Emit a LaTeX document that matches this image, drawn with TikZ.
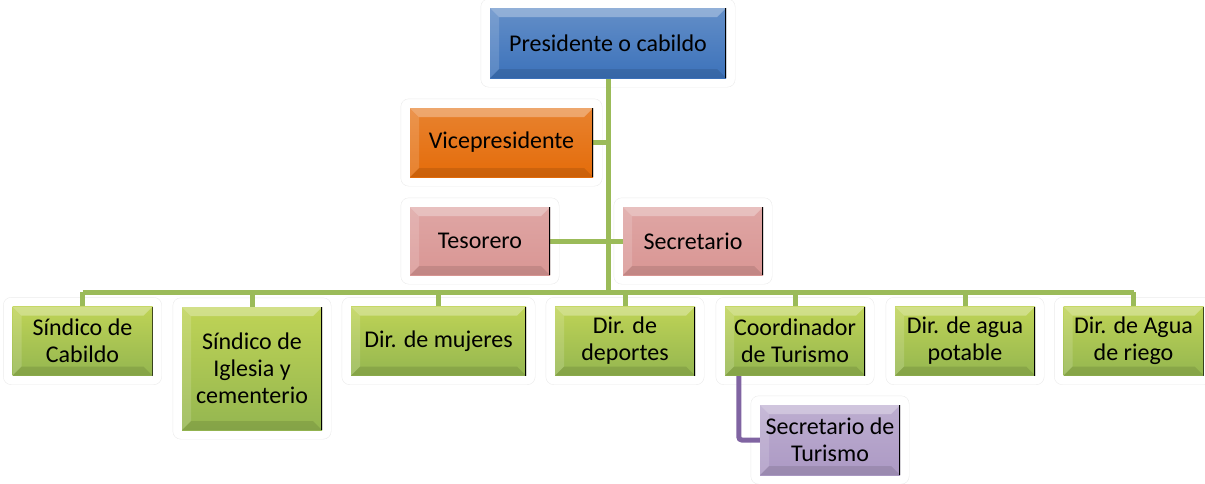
\documentclass[tikz,border=0pt]{standalone}
\usepackage{fontspec}
\setmainfont{Carlito}
\usetikzlibrary{positioning, backgrounds}
\definecolor{presBlue}{RGB}{60,114,186}
\definecolor{viceOrange}{RGB}{228,108,10}
\definecolor{tesPink}{RGB}{217,150,148}
\definecolor{dirGreen}{RGB}{148,182,80}
\definecolor{turPurple}{RGB}{172,153,196}
\definecolor{lineGreen}{RGB}{155,187,89}
\definecolor{linePurple}{RGB}{128,100,162}
\tikzstyle{bevel} = [rectangle, inner sep=2pt, align=center, font=\fontsize{24}{27}\selectfont,
  path picture={
    \fill[white, opacity=0.3] (path picture bounding box.north west) -- (path picture bounding box.north east)
      -- ([shift={(-9pt,-9pt)}]path picture bounding box.north east) -- ([shift={(9pt,-9pt)}]path picture bounding box.north west) -- cycle;
    \fill[white, opacity=0.15] (path picture bounding box.north west) -- ([shift={(9pt,-9pt)}]path picture bounding box.north west)
      -- ([shift={(9pt,9pt)}]path picture bounding box.south west) -- (path picture bounding box.south west) -- cycle;
    \fill[black, opacity=0.1] (path picture bounding box.south west) -- (path picture bounding box.south east)
      -- ([shift={(-9pt,9pt)}]path picture bounding box.south east) -- ([shift={(9pt,9pt)}]path picture bounding box.south west) -- cycle;
    \draw[black, line width=2pt] (path picture bounding box.north east) -- (path picture bounding box.south east);
  }]
\tikzstyle{president} = [bevel, minimum width=236pt, minimum height=70pt, top color=presBlue!80!white, bottom color=presBlue]
\tikzstyle{vice} = [bevel, minimum width=183pt, minimum height=69pt, top color=viceOrange!85!white, bottom color=viceOrange]
\tikzstyle{treasury} = [bevel, minimum width=140pt, minimum height=68pt, top color=tesPink!85!white, bottom color=tesPink]
\tikzstyle{director} = [bevel, minimum width=140pt, minimum height=69pt, top color=dirGreen!70!yellow!85!white, bottom color=dirGreen]
\tikzstyle{tourism} = [bevel, minimum width=140pt, minimum height=70pt, top color=turPurple!80!white, bottom color=turPurple]
\tikzstyle{frame} = [draw=black!8, rounded corners=8pt, fill=white]
\tikzstyle{link} = [line width=5pt, lineGreen]
\tikzstyle{sublink} = [line width=5pt, linePurple, rounded corners=3pt]

\begin{document}
\begin{tikzpicture}[x=1pt, y=-1pt]
\useasboundingbox (0,0) rectangle (1205,483);

\node (pres) [president] at (608,43) {Presidente o cabildo};
\node (vice) [vice] at (501.5,142.5) {Vicepresidente};
\node (tes) [treasury] at (480,241) {Tesorero};
\node (sec) [treasury] at (693,241) {Secretario};

\node (cabildo) [director] at (82.5,341) {Síndico de\\Cabildo};
\node (iglesia) [director, minimum height=123pt] at (252,368.5) {Síndico de\\Iglesia y\\cementerio};
\node (mujeres) [director, minimum width=175pt] at (438.5,341) {Dir. de mujeres};
\node (deportes) [director] at (625,341) {Dir. de\\deportes};
\node (coord) [director] at (795,341) {Coordinador\\de Turismo};
\node (potable) [director] at (965,341) {Dir. de agua\\potable};
\node (riego) [director] at (1133.5,341) {Dir. de Agua\\de riego};
\node (sectur) [tourism] at (830,440) {Secretario de\\Turismo};

\coordinate (bus) at (608,292);

\begin{scope}[on background layer]
\foreach \n in {pres, vice, tes, sec, cabildo, iglesia, mujeres, deportes, coord, potable, riego, sectur}
  \draw [frame] ([shift={(-9pt,-9pt)}]\n.south west) rectangle ([shift={(9pt,9pt)}]\n.north east);

\draw [link] (pres.south) -- (bus);
\draw [link] (vice.east) -- (vice.east -| pres.south);
\draw [link] (tes.east) -- (sec.west);
\draw [link] (cabildo.north |- bus) -- (riego.north |- bus);
\foreach \n in {cabildo, iglesia, mujeres, deportes, coord, potable, riego}
  \draw [link] (\n.north |- bus) -- (\n.north);
\draw [sublink] ([xshift=14pt]coord.south west) |- (sectur.west);
\end{scope}
\end{tikzpicture}
\end{document}
